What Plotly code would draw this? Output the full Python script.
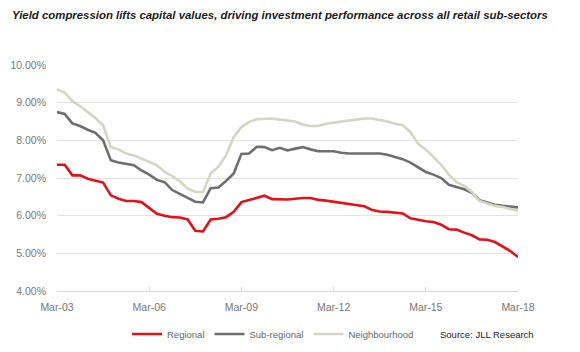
import plotly.graph_objects as go

months = ["Mar", "Jun", "Sep", "Dec"]
quarters = [f"{months[i % 4]}-{(3 + i // 4):02d}" for i in range(61)]
tick_labels = ["Mar-03", "Mar-06", "Mar-09", "Mar-12", "Mar-15", "Mar-18"]

regional = [7.35, 7.35, 7.07, 7.07, 6.98, 6.93, 6.88, 6.54, 6.45, 6.39,
            6.39, 6.36, 6.20, 6.05, 6.00, 5.96, 5.95, 5.90, 5.60, 5.58,
            5.90, 5.92, 5.96, 6.10, 6.36, 6.41, 6.48, 6.53, 6.44, 6.43,
            6.43, 6.45, 6.47, 6.47, 6.42, 6.40, 6.37, 6.34, 6.33, 6.29,
            6.25, 6.15, 6.11, 6.10, 6.08, 6.06, 5.93, 5.88, 5.85, 5.83,
            5.76, 5.64, 5.63, 5.55, 5.48, 5.37, 5.36, 5.30, 5.19, 5.06,
            4.90]
sub_regional = [8.75, 8.70, 8.45, 8.38, 8.28, 8.20, 8.00, 7.47, 7.41, 7.38,
                7.34, 7.20, 7.09, 6.95, 6.89, 6.68, 6.58, 6.47, 6.37, 6.35,
                6.73, 6.75, 6.92, 7.12, 7.64, 7.65, 7.83, 7.82, 7.74, 7.80,
                7.73, 7.78, 7.82, 7.76, 7.71, 7.71, 7.71, 7.67, 7.65, 7.65,
                7.65, 7.65, 7.65, 7.62, 7.56, 7.50, 7.41, 7.29, 7.16, 7.09,
                7.00, 6.82, 6.76, 6.70, 6.61, 6.41, 6.35, 6.29, 6.26, 6.23,
                6.22]
neighbourhood = [9.35, 9.27, 9.04, 8.91, 8.75, 8.59, 8.40, 7.82, 7.76, 7.65,
                 7.60, 7.51, 7.44, 7.34, 7.16, 7.05, 6.91, 6.72, 6.63, 6.63,
                 7.12, 7.30, 7.60, 8.09, 8.35, 8.49, 8.56, 8.58, 8.58, 8.55,
                 8.53, 8.50, 8.42, 8.38, 8.38, 8.44, 8.47, 8.50, 8.53, 8.56,
                 8.58, 8.58, 8.55, 8.50, 8.44, 8.40, 8.22, 7.91, 7.76, 7.56,
                 7.35, 7.09, 6.89, 6.79, 6.63, 6.39, 6.32, 6.26, 6.23, 6.19,
                 6.13]

series = [
    ("Regional", regional, "#e2121b"),
    ("Sub-regional", sub_regional, "#6e6e6e"),
    ("Neighbourhood", neighbourhood, "#d5d5c6"),
]

fig = go.Figure()
for name, vals, color in series:
    fig.add_trace(go.Scatter(
        x=quarters, y=vals, name=name, mode="lines",
        line=dict(color=color, width=2.6),
    ))

font_family = "Liberation Sans, Arial, sans-serif"
PW, PH, L, B = 461, 226, 57, 61

fig.update_layout(
    width=580, height=352,
    margin=dict(l=L, r=62, t=65, b=B, autoexpand=False),
    paper_bgcolor="white", plot_bgcolor="white",
    font=dict(family=font_family, size=10, color="#777777"),
    showlegend=True,
    legend=dict(
        orientation="h", x=(127 - L) / PW, xanchor="left",
        y=-(334 - 291) / PH, yanchor="middle",
        font=dict(size=9.5, color="#666666"),
        tracegroupgap=0,
    ),
    xaxis=dict(
        type="category", categoryorder="array", categoryarray=quarters,
        range=[0, 60], tickmode="array", tickvals=tick_labels, ticktext=tick_labels,
        showgrid=False, showline=True, linecolor="#d9d9d9", linewidth=1,
        ticks="inside", ticklen=4, tickcolor="#d9d9d9",
        tickfont=dict(size=10.5, color="#777777"), zeroline=False,
        ticklabelstandoff=6,
    ),
    yaxis=dict(
        range=[4, 10], tickvals=[4, 5, 6, 7, 8, 9, 10],
        ticktext=["4.00%", "5.00%", "6.00%", "7.00%", "8.00%", "9.00%", "10.00%"],
        showgrid=True, gridcolor="#e3e3e3", gridwidth=1, zeroline=False,
        showline=False, ticks="", ticklabelstandoff=10,
        tickfont=dict(size=10.5, color="#777777"),
    ),
)

fig.add_annotation(
    text="Yield compression lifts capital values, driving investment performance across all retail sub-sectors",
    xref="paper", yref="paper", x=(10 - L) / PW, y=(291 - 15) / PH,
    xanchor="left", yanchor="middle", showarrow=False,
    font=dict(family=font_family, size=11.4, color="#1a1a1a", weight="bold", style="italic"),
)
fig.add_annotation(
    text="Source: JLL Research",
    xref="paper", yref="paper", x=(438 - L) / PW, y=-(334 - 291) / PH,
    xanchor="left", yanchor="middle", showarrow=False,
    font=dict(family=font_family, size=9.5, color="#222222"),
)

fig.write_html("out.html")
